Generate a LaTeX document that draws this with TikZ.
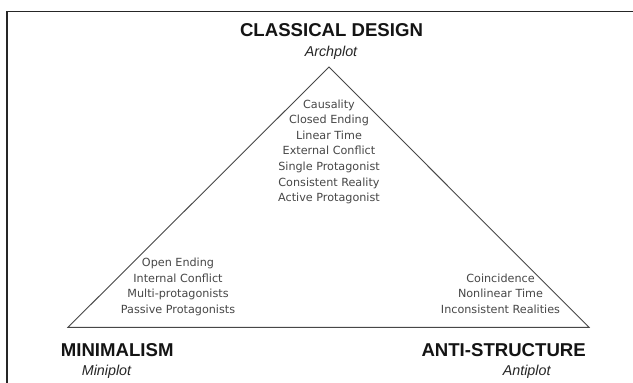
\documentclass[tikz,border=0pt]{standalone}
\usepackage{fontspec}
\setmainfont{Liberation Sans}
\newfontfamily\itemfont{DejaVu Sans}
\begin{document}
\begin{tikzpicture}[x=1pt,y=-1pt,
  head/.style={inner sep=0pt,font=\bfseries\fontsize{18.6}{22}\selectfont,text=black!92},
  plot/.style={inner sep=0pt,font=\itshape\fontsize{14.3}{17}\selectfont,text=black!85},
  item/.style={inner sep=0pt,font=\itemfont\fontsize{11.2}{13}\selectfont,text=black!72},
  edge/.style={draw=black!72,line width=0.9pt},
  frame/.style={draw=black!85,line width=1.8pt}]
\useasboundingbox (0,0) rectangle (633,383);
\fill[white] (0,0) rectangle (633,383);

% partial frame along the top and left sides
\coordinate (ftl) at (7,11.5);
\coordinate (ftr) at (633,11.5);
\coordinate (fbl) at (7,383);
\draw[frame] (ftr) -- (ftl) -- (fbl);

% the triangle
\coordinate (apex) at (329,67);
\coordinate (bl) at (68,327.3);
\coordinate (br) at (589,327.3);
\draw[edge,line join=miter] (apex) -- (bl) -- (br) -- cycle;

% corner headings
\node[head,anchor=base] (classical) at (331.5,36.7) {CLASSICAL DESIGN};
\node[plot,anchor=base] (arch) at (331,56.7) {Archplot};
\node[head,anchor=base west] (minimal) at (60.7,356.7) {MINIMALISM};
\node[plot,anchor=base west] (mini) at (81.7,375.7) {Miniplot};
\node[head,anchor=base east] (anti) at (586,356.7) {ANTI-STRUCTURE};
\node[plot,anchor=base east] (antip) at (550.7,375.7) {Antiplot};

% traits of each corner
\foreach \t [count=\i] in {Causality,Closed Ending,Linear Time,External Conflict,Single Protagonist,Consistent Reality,Active Protagonist}
  \node[item,anchor=base] (top\i) at (329,{108.3+15.55*(\i-1)}) {\t};
\foreach \t [count=\i] in {Open Ending,Internal Conflict,Multi-protagonists,Passive Protagonists}
  \node[item,anchor=base] (left\i) at (178,{266.7+15.55*(\i-1)}) {\t};
\foreach \t [count=\i] in {Coincidence,Nonlinear Time,Inconsistent Realities}
  \node[item,anchor=base] (right\i) at (500.5,{282.3+15.55*(\i-1)}) {\t};
\end{tikzpicture}
\end{document}
